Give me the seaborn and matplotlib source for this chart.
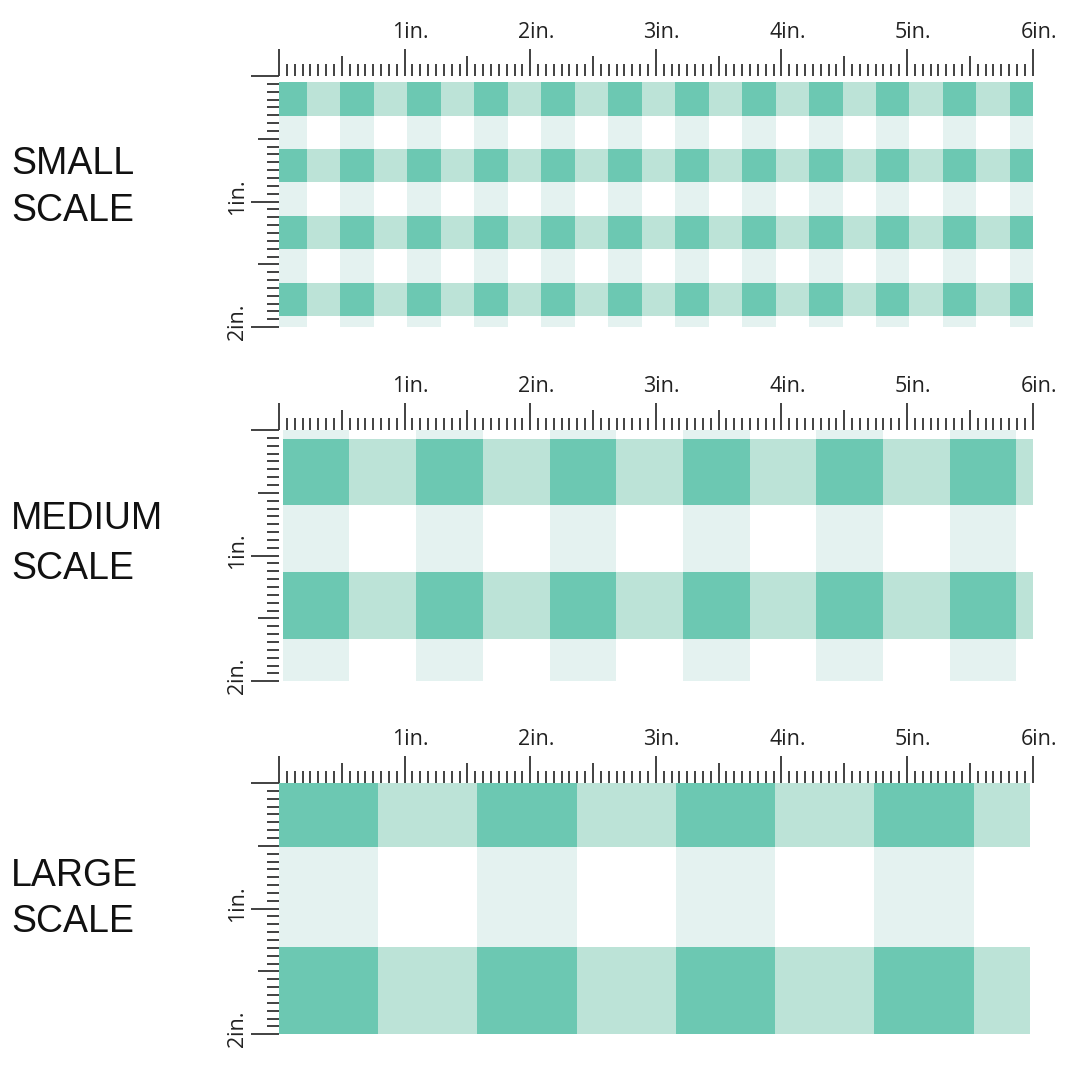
import numpy as np
import matplotlib
matplotlib.use("Agg")
import matplotlib.pyplot as plt
from matplotlib.colors import ListedColormap
from matplotlib.transforms import ScaledTranslation
import seaborn as sns

# scales shown, top to bottom
scale_names = ["SMALL", "MEDIUM", "LARGE"]

# gingham bands: 1 = green band, 0 = white band
# rows go top -> bottom, cols go left -> right
small_rows = [1, 0, 1, 0, 1, 0, 1, 0]
small_cols = [1, 0] * 11 + [1]
medium_rows = [0, 1, 0, 1, 0]
medium_cols = [1, 0] * 6
large_rows = [1, 0, 1]
large_cols = [1, 0] * 4

# ruler ticks / labels (inches)
ruler_x = [0, 1, 2, 3, 4, 5, 6]
ruler_x_labels = ["", "1in.", "2in.", "3in.", "4in.", "5in.", "6in."]
ruler_y = [0, 1, 2]
ruler_y_labels = ["", "1in.", "2in."]

# cell colours: white, col band only, row band only, both bands
colors = ["#ffffff", "#e4f2f0", "#bce3d7", "#6cc8b2"]

# ---- layout (pixels on a 1080 canvas) ----
PX = 1080
ppi = 125.6                       # canvas pixels per ruler inch
origins = [(279, 76), (279, 430), (279, 783)]   # ruler corner per panel
square = [0.2665, 0.531, 0.79]    # gingham square, ruler inches
start = [(0.165, 0.0), (0.0, 0.87), (0.0, 0.35)]  # where the cut starts in the repeat (squares)
piece = [(0.0, 6.0, 0.048, 2.0), (0.03, 6.0, 0.0, 2.0), (0.0, 5.98, 0.0, 2.0)]  # x0, x1, y0, y1
label_base = [(174, 221), (529, 579), (886, 932)]
tick_c = "#333333"

sns.set_style("white")
plt.rcParams["font.family"] = ["Open Sans", "DejaVu Sans"]

fig = plt.figure(figsize=(10.8, 10.8), dpi=100)
cmap = ListedColormap(colors)
bands = [(small_rows, small_cols), (medium_rows, medium_cols), (large_rows, large_cols)]

for i, name in enumerate(scale_names):
    ox, oy = origins[i]
    ax = fig.add_axes([ox / PX, 1 - (oy + 2 * ppi) / PX, 6 * ppi / PX, 2 * ppi / PX])
    ax.set_xlim(0, 6)
    ax.set_ylim(2, 0)
    ax.patch.set_alpha(0)
    for s in ax.spines.values():
        s.set_visible(False)

    # fabric piece
    rows, cols = bands[i]
    mat = 2 * np.array(rows)[:, None] + np.array(cols)[None, :]
    x0, x1, y0, y1 = piece[i]
    pax = ax.inset_axes([x0 / 6, 1 - y1 / 2, (x1 - x0) / 6, (y1 - y0) / 2])
    sns.heatmap(mat, ax=pax, cmap=cmap, vmin=-0.5, vmax=3.5, cbar=False,
                xticklabels=False, yticklabels=False)
    sx, sy = start[i]
    pax.set_xlim(sx, sx + (x1 - x0) / square[i])
    pax.set_ylim(sy + (y1 - y0) / square[i], sy)
    pax.axis("off")

    # rulers
    ax.xaxis.tick_top()
    ax.set_xticks(ruler_x, ruler_x_labels)
    ax.set_yticks(ruler_y, ruler_y_labels)
    sx16 = [t for t in np.arange(0, 6.001, 1 / 16) if t % 0.5]
    sy16 = [t for t in np.arange(0, 2.001, 1 / 16) if t % 0.5]
    ax.set_xticks(sx16, minor=True)
    ax.set_yticks(sy16, minor=True)
    ax.tick_params(axis="x", which="both", top=True, bottom=False)
    ax.tick_params(axis="y", which="both", left=True, right=False)
    ax.tick_params(axis="x", which="major", length=19.5, width=1.3, color=tick_c,
                   pad=4, labelsize=15.5, labelcolor="#222222")
    ax.tick_params(axis="y", which="major", length=20, width=1.3, color=tick_c,
                   pad=2, labelsize=15.5, labelcolor="#222222")
    ax.tick_params(axis="both", which="minor", length=9, width=1.3, color=tick_c)

    secx = ax.secondary_xaxis("top")
    secx.set_xticks(np.arange(0.5, 6, 1), labels=[])
    secx.tick_params(length=14.5, width=1.3, color=tick_c)
    secy = ax.secondary_yaxis("left")
    secy.set_yticks(np.arange(0.5, 2, 1), labels=[])
    secy.tick_params(length=15, width=1.3, color=tick_c)
    for sec in (secx, secy):
        for s in sec.spines.values():
            s.set_visible(False)

    for lab in ax.get_xticklabels():
        lab.set_transform(lab.get_transform() + ScaledTranslation(0.06, 0, fig.dpi_scale_trans))
    for lab in ax.get_yticklabels():
        lab.set_rotation(90)
        lab.set_va("center")
        lab.set_transform(lab.get_transform() + ScaledTranslation(0, 0.05, fig.dpi_scale_trans))

    # scale name
    b1, b2 = label_base[i]
    fig.text(11 / PX, 1 - b1 / PX, name, fontsize=27, family="Liberation Sans",
             va="baseline", color="#111111")
    fig.text(11 / PX, 1 - b2 / PX, "SCALE", fontsize=27, family="Liberation Sans",
             va="baseline", color="#111111")

fig.savefig("out.png", dpi=100, facecolor="white")
